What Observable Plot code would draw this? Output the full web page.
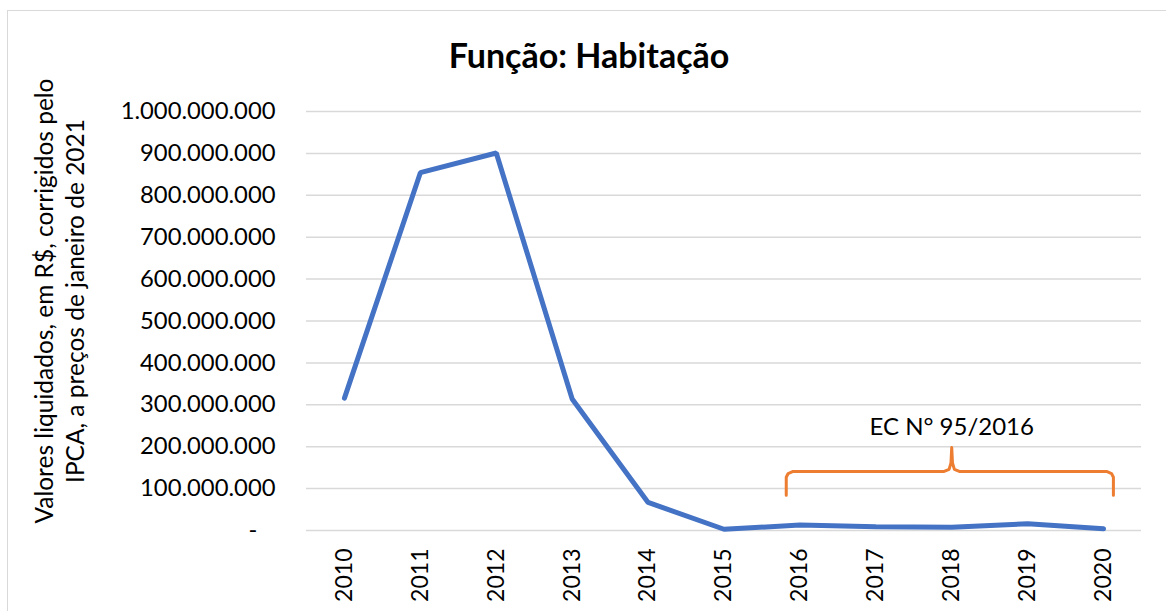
<!DOCTYPE html>
<html><head><meta charset="utf-8">
<script src="https://cdn.jsdelivr.net/npm/d3@7"></script>
<script src="https://cdn.jsdelivr.net/npm/@observablehq/plot@0.6"></script>
<style>
html,body{margin:0;padding:0;background:#fff;overflow:hidden;width:1166px;height:611px;}
#frame{position:absolute;left:7px;top:10px;width:1180px;height:640px;border:1.5px solid #d9d9d9;box-sizing:border-box;}
#chart{position:absolute;left:0;top:0;}
#title{position:absolute;left:289px;width:600px;top:38px;text-align:center;font:bold 34px Lato,sans-serif;line-height:1;color:#000;}
</style></head>
<body>
<div id="frame"></div>
<div id="chart"></div>
<div id="title">Função: Habitação</div>
<script>
const years = [2010, 2011, 2012, 2013, 2014, 2015, 2016, 2017, 2018, 2019, 2020];
const values = [316e6, 854e6, 901e6, 314e6, 67e6, 3e6, 13e6, 9e6, 8e6, 16e6, 4e6];
const yTicks = [0, 1e8, 2e8, 3e8, 4e8, 5e8, 6e8, 7e8, 8e8, 9e8, 1e9];
const yLabel = "Valores liquidados, em R$, corrigidos pelo\nIPCA, a preços de janeiro de 2021";
// annotation: brace over the EC 95/2016 period
const ecNote = [{label: "EC N° 95/2016", from: 2015.82, to: 2020.13, mid: 2018, low: 84e6, level: 141e6, tip: 198e6, text: 229e6}];

const data = years.map((year, i) => ({year, value: values[i]}));
const n = ecNote[0];
const bracePts = [
  [n.from, n.low], [n.from, n.level - 14e6], [n.from + 0.025, n.level - 5e6], [n.from + 0.09, n.level],
  [n.mid - 0.1, n.level], [n.mid - 0.035, n.level + 5e6], [n.mid - 0.01, n.level + 20e6], [n.mid, n.tip],
  [n.mid + 0.01, n.level + 20e6], [n.mid + 0.035, n.level + 5e6], [n.mid + 0.1, n.level],
  [n.to - 0.09, n.level], [n.to - 0.025, n.level - 5e6], [n.to, n.level - 14e6], [n.to, n.low]
].map(([x, y]) => ({x, y}));

const fmt = d => d === 0 ? "-\u00a0\u00a0\u00a0" : d3.format(",")(d).replace(/,/g, ".");

const chart = Plot.plot({
  width: 1166, height: 611,
  marginLeft: 306, marginRight: 25, marginTop: 111, marginBottom: 81,
  style: {fontFamily: "Lato, sans-serif", fontSize: "23px", color: "#000", background: "transparent", overflow: "visible"},
  x: {domain: [2009.5, 2020.5], label: null},
  y: {domain: [0, 1e9], label: null},
  marks: [
    Plot.ruleY(yTicks, {stroke: "#d9d9d9", strokeWidth: 1.5}),
    Plot.axisY({ticks: yTicks, tickFormat: fmt, tickSize: 0, tickPadding: 31, label: null, fontSize: 23.8}),
    Plot.axisX({ticks: years, tickFormat: d => String(d), tickRotate: -90, tickSize: 0, tickPadding: 18, label: null, fontSize: 23}),
    Plot.text([yLabel], {frameAnchor: "left", rotate: -90, dx: -248, dy: -20, fontSize: 24.5, lineHeight: 1.25, textAnchor: "middle", lineAnchor: "middle", fill: "#000"}),
    Plot.line(data, {x: "year", y: "value", stroke: "#4472C4", strokeWidth: 5, strokeLinejoin: "miter", strokeLinecap: "round"}),
    Plot.line(bracePts, {x: "x", y: "y", stroke: "#ED7D31", strokeWidth: 3}),
    Plot.text(ecNote, {x: "mid", y: "text", text: "label", fontSize: 24, lineAnchor: "bottom", fill: "#000"})
  ]
});
document.getElementById("chart").appendChild(chart);
</script>
</body></html>
